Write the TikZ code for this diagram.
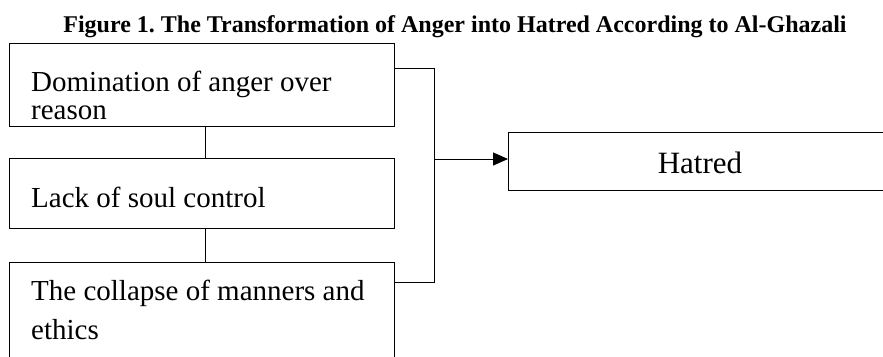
\documentclass[tikz,border=0pt]{standalone}
\usepackage{fontspec}
\setmainfont{Liberation Serif}
\usetikzlibrary{arrows.meta}
\frenchspacing
\tikzset{
  boxshape/.style={draw=black, line width=1pt, rectangle, inner sep=0pt, anchor=north west},
  boxtext/.style={anchor=base west, inner sep=0pt, font=\fontsize{29}{29}\selectfont},
  conn/.style={draw=black, line width=1pt},
}
\begin{document}
\begin{tikzpicture}[x=1pt,y=-1pt]
\useasboundingbox (0,0) rectangle (883,356);
\node (title) [anchor=base, inner sep=0pt, font=\bfseries\fontsize{24}{24}\selectfont] at (455,32) {Figure 1. The Transformation of Anger into Hatred According to Al-Ghazali};
% boxes
\node (b1) [boxshape, minimum width=385pt, minimum height=83pt] at (9,43) {};
\node (b2) [boxshape, minimum width=385pt, minimum height=70pt] at (9,158) {};
\node (b3) [boxshape, minimum width=385pt, minimum height=110pt] at (9,262) {};
\node (h) [boxshape, minimum width=400pt, minimum height=58pt] at (508,132) {};
% texts
\node (t1a) [boxtext] at (31,91) {Domination of anger over};
\node (t1b) [boxtext] at (31,119) {reason};
\node (t2) [boxtext] at (31,207) {Lack of soul control};
\node (t3a) [boxtext] at (31,300) {The collapse of manners and};
\node (t3b) [boxtext] at (31,339) {ethics};
\node (th) [anchor=base, inner sep=0pt, font=\fontsize{31}{31}\selectfont] at (700,173) {Hatred};
% connectors
\coordinate (j1) at (434,68);
\coordinate (j2) at (434,282);
\coordinate (j3) at (434,159);
\draw[conn] (b1.south -| 205,0) -- (b2.north -| 205,0);
\draw[conn] (b2.south -| 205,0) -- (b3.north -| 205,0);
\draw[conn] (b1.east |- j1) -- (j1) -- (j2) -- (b3.east |- j2);
\draw[conn, -{Triangle[length=15pt,width=13pt]}] (j3) -- (h.west |- j3);
\end{tikzpicture}
\end{document}
